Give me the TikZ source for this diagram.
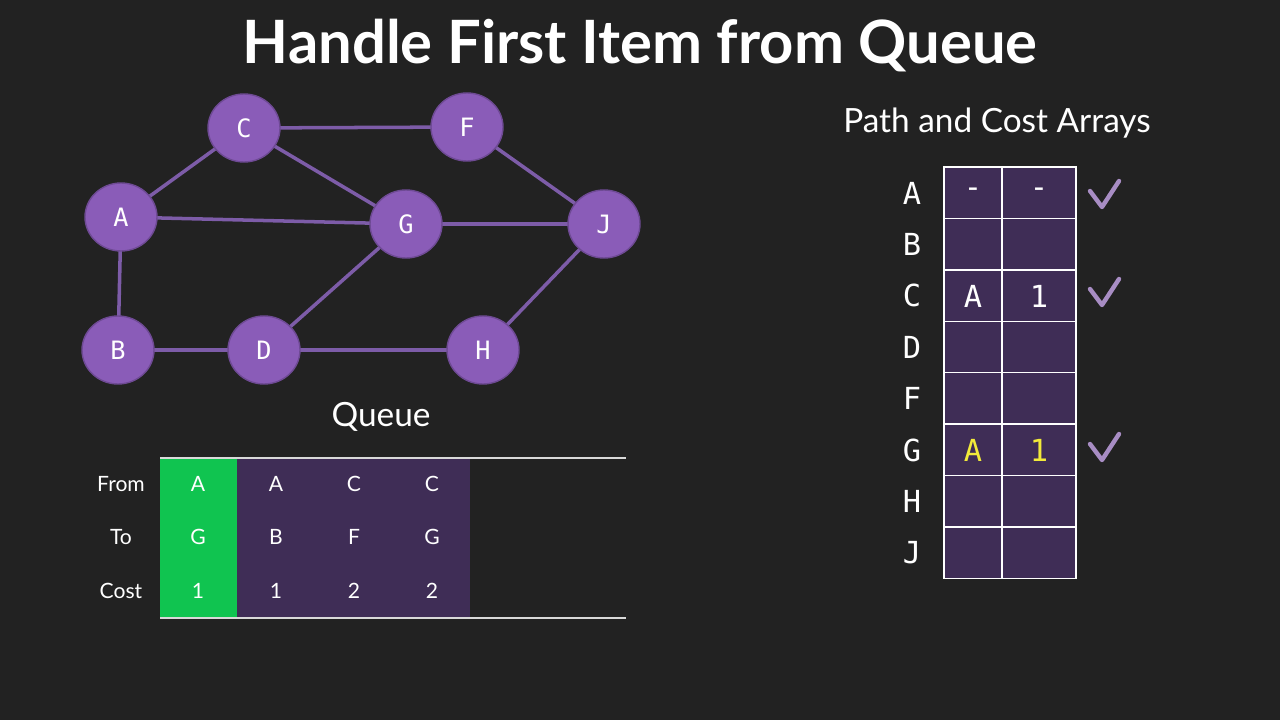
\documentclass[tikz,border=0pt]{standalone}
\usepackage{fontspec}
\setmainfont{Lato}
\setmonofont{DejaVu Sans Mono}
\usetikzlibrary{shapes.geometric,backgrounds}
\definecolor{bg}{HTML}{222222}
\definecolor{vert}{HTML}{8A5CB8}
\definecolor{vertline}{HTML}{6E4A94}
\definecolor{edge}{HTML}{7D5CA8}
\definecolor{cellbg}{HTML}{3F2D56}
\definecolor{go}{HTML}{10C450}
\definecolor{hl}{HTML}{F2EA3A}
\definecolor{tick}{HTML}{A88DC4}
\tikzset{
  vertex/.style={ellipse,fill=vert,draw=vertline,line width=0.8pt,minimum width=1.44cm,minimum height=1.36cm,text=white,font=\ttfamily\Large},
  link/.style={edge,line width=2pt},
  qtext/.style={text=white,font=\large},
  mono/.style={text=white,font=\ttfamily\LARGE},
  cell/.style={fill=cellbg,draw=white,line width=0.8pt},
  check/.style={tick,line width=2.5pt,line cap=round,line join=round}
}
\begin{document}
\begin{tikzpicture}[x=0.02cm,y=-0.02cm]
  \node[text=white,font=\bfseries\fontsize{34}{40}\selectfont] (title) at (640,46) {Handle First Item from Queue};
  % graph
  \node[vertex] (C) at (244,128) {C};
  \node[vertex] (F) at (467,127) {F};
  \node[vertex] (A) at (121,217) {A};
  \node[vertex] (G) at (406,224) {G};
  \node[vertex] (J) at (604,224) {J};
  \node[vertex] (B) at (118,350) {B};
  \node[vertex] (D) at (264,350) {D};
  \node[vertex] (H) at (483,350) {H};
  \begin{pgfonlayer}{background}
    \fill[bg] (0,0) rectangle (1280,720);
    \foreach \u/\v in {A/C,C/F,C/G,A/G,A/B,F/J,G/J,G/D,B/D,D/H,H/J}
      \draw[link] (\u.center) -- (\v.center);
  \end{pgfonlayer}
  % queue
  \node[text=white,font=\fontsize{19}{23}\selectfont] (qtitle) at (381,417) {Queue};
  \fill[go] (160,458) rectangle (237,618);
  \fill[cellbg] (237,458) rectangle (470,618);
  \draw[white!85!black,line width=0.8pt] (160,458) -- (626,458);
  \draw[white!85!black,line width=0.8pt] (160,618) -- (626,618);
  \node[qtext] (from) at (121,484) {From};
  \node[qtext] (to) at (121,537) {To};
  \node[qtext] (cost) at (121,591) {Cost};
  \foreach \x/\f/\t/\c in {198/A/G/1,276/A/B/1,354/C/F/2,432/C/G/2}{
    \node[qtext] at (\x,484) {\f};
    \node[qtext] at (\x,537) {\t};
    \node[qtext] at (\x,591) {\c};
  }
  % path and cost arrays
  \node[text=white,font=\fontsize{19}{23}\selectfont] (ptitle) at (997,123) {Path and Cost Arrays};
  \foreach \l [count=\i from 0] in {A,B,C,D,F,G,H,J}{
    \draw[cell] (944,167+51.4*\i) rectangle (1002,167+51.4*\i+51.4);
    \draw[cell] (1002,167+51.4*\i) rectangle (1076,167+51.4*\i+51.4);
    \node[mono] at (912,193+51.4*\i) {\l};
  }
  \node[mono] at (973,193) {-};
  \node[mono] at (1039,193) {-};
  \node[mono] at (973,296) {A};
  \node[mono] at (1039,296) {1};
  \node[mono,text=hl] at (973,450) {A};
  \node[mono,text=hl] at (1039,450) {1};
  \foreach \y in {195,293,448}
    \draw[check] (1090,\y-4) -- (1102,\y+12) -- (1119,\y-14);
\end{tikzpicture}
\end{document}
